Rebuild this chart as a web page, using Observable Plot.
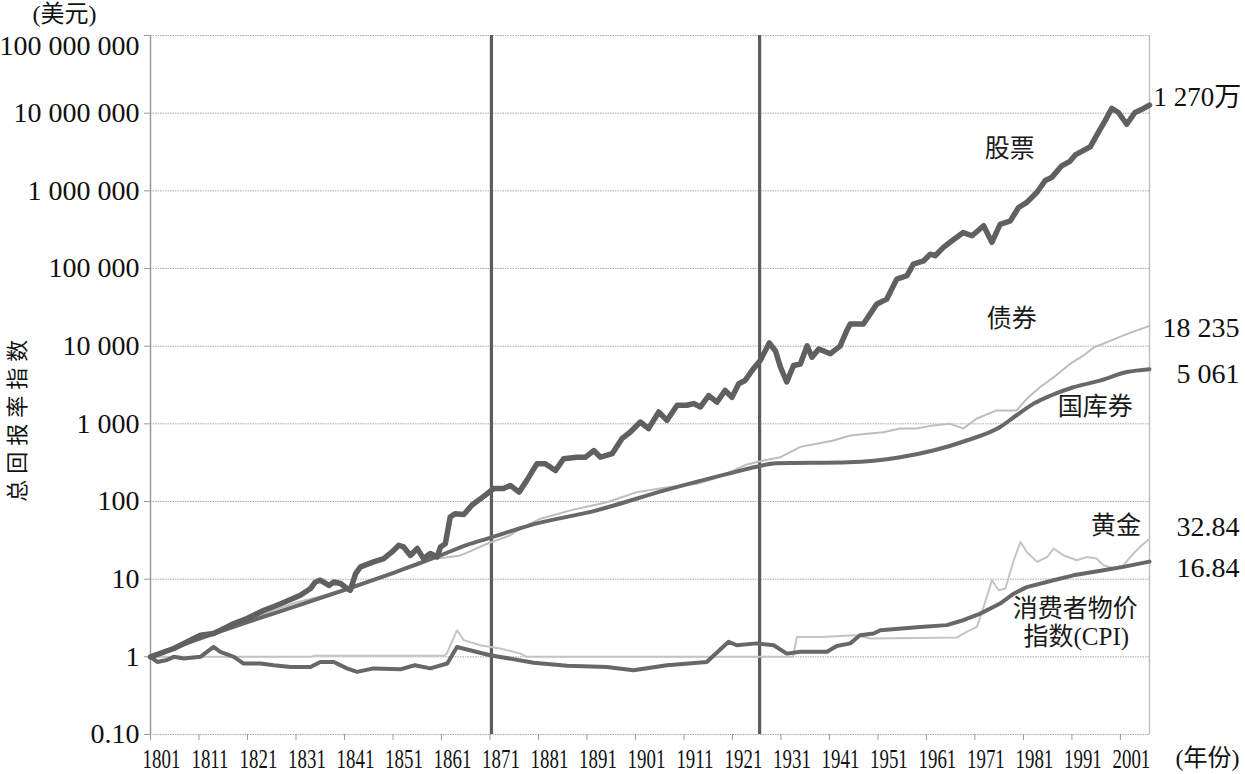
<!DOCTYPE html>
<html><head><meta charset="utf-8">
<script src="https://cdn.jsdelivr.net/npm/d3@7"></script>
<script src="https://cdn.jsdelivr.net/npm/@observablehq/plot@0.6"></script>
<style>html,body{margin:0;padding:0;background:#fff;} svg{display:block}</style>
</head><body><div id="chart"></div>
<script>
// ---------- axis ticks ----------
const xTicks = [1801,1811,1821,1831,1841,1851,1861,1871,1881,1891,1901,1911,1921,1931,1941,1951,1961,1971,1981,1991,2001];
const xDomain = [1801, 2007];
const yTicks = [0.1,1,10,100,1000,1e4,1e5,1e6,1e7,1e8];
const yTickLabels = ["0.10","1","10","100","1 000","10 000","100 000","1 000 000","10 000 000","100 000 000"];
const periodBreaks = [1871.3, 1926.6];

// ---------- series: [year, total return index] ----------
const stocks = [
 [1801,1.0],[1805.8,1.28],[1808.6,1.56],[1811.3,1.9],[1814,2.0],[1816.8,2.43],[1818.2,2.69],[1820.9,3.11],
 [1824.4,3.98],[1827.1,4.62],[1829.9,5.47],[1831.9,6.22],[1834,7.57],[1835,9.2],[1836,9.7],[1837.8,8.3],
 [1838.8,9.2],[1840.2,8.8],[1841.5,7.6],[1842.2,7.2],[1843.3,11.8],[1844.3,14.4],[1847,16.7],[1849.1,18.4],
 [1850.8,22.4],[1852.2,27.3],[1853.2,26.0],[1854.6,20.2],[1856,24.8],[1857.3,18.4],[1858.7,21.4],[1860.1,19.3],
 [1860.8,26],[1861.8,28.6],[1862.8,63],[1863.8,69.7],[1865.6,68],[1867.3,90],[1869.5,114],[1871.8,147],
 [1873.8,147],[1875.2,161],[1877,132],[1878.6,187],[1880.7,307],[1882.4,307],[1884.5,250],[1886.2,356],
 [1888.9,372],[1890.7,372],[1892.4,453],[1893.8,372],[1896.2,413],[1898.2,644],[1899.9,780],[1902,1055],
 [1903.7,869],[1905.8,1420],[1907.5,1110],[1909.6,1737],[1911.6,1737],[1913,1823],[1914.4,1650],[1916.1,2310],
 [1917.8,1900],[1919.5,2690],[1920.9,2200],[1922.3,3290],[1923.6,3610],[1925.3,5100],[1926.7,6500],[1928.6,11000],
 [1929.9,8600],[1930.9,5400],[1932.2,3460],[1933.6,5640],[1935,5900],[1936.4,10100],[1937.4,7200],[1938.8,9200],
 [1941.2,8000],[1943.2,10000],[1944.6,16000],[1945.3,19300],[1948,19300],[1950.8,35000],[1952.8,40300],[1954.9,73000],
 [1957,81000],[1958.3,114000],[1960.4,125000],[1961.8,153000],[1962.8,146000],[1964.5,187000],[1966.2,226000],
 [1968.6,290000],[1970.4,264000],[1972.8,355000],[1974.5,217000],[1976.2,370000],[1978.3,410000],[1980,610000],
 [1981.7,710000],[1983.8,960000],[1985.5,1.36e6],[1986.9,1.5e6],[1988.9,2.1e6],[1990.6,2.4e6],[1991.7,2.9e6],
 [1993.7,3.4e6],[1994.8,3.7e6],[1996.8,6.2e6],[1997.8,7.9e6],[1999.2,11.5e6],[2000.6,10.2e6],[2002.3,7.2e6],
 [2004,10.2e6],[2005.8,11.5e6],[2007,12.7e6]
];
const bonds = [
 [1801,1.0],[1806,1.3],[1811,1.8],[1816,2.3],[1821,3.0],[1826,3.9],[1831,5.0],[1836,6.0],[1841,7.5],
 [1846,9.6],[1851,12.2],[1856,15.0],[1859.4,18.4],[1862,19],[1864.9,20.2],[1867,23],[1870.4,28.6],
 [1875.2,36.8],[1878,47],[1881.4,60],[1888,78],[1895.1,98],[1901.3,132],[1907,150],[1913.7,169],
 [1917,195],[1920.5,240],[1924,300],[1927.4,338],[1930.9,372],[1935,505],[1938.4,555],[1941.8,610],
 [1945.3,707],[1948.7,745],[1952.1,780],[1955.6,869],[1959,869],[1962.4,955],[1965.9,1000],[1968.6,869],
 [1971.4,1170],[1975.5,1490],[1979.6,1490],[1981.7,2100],[1984.4,2960],[1987.2,3960],[1990.6,5900],
 [1993.4,7600],[1995.5,9600],[1998.9,11700],[2002.3,14300],[2007,18235]
];
const bills = [
 [1801,1.0],[1811,1.7],[1821,2.8],[1831,4.5],[1842,7.6],[1851,12.0],[1861,20.5],[1867,28.6],[1871,34],
 [1879,49],[1893,77],[1907,139],[1920,227],[1926,280],[1930,310],[1945,320],[1955.6,372],[1962.4,453],
 [1969.3,610],[1976.2,910],[1979.6,1290],[1983.1,1820],[1986.5,2300],[1991.3,2960],[1996.8,3600],
 [2002.3,4640],[2007,5061]
];
const gold = [
 [1801,1.0],[1834,1.0],[1834.6,1.03],[1861.5,1.03],[1862.1,1.1],[1864.2,2.2],[1865.6,1.64],[1869,1.41],
 [1873.1,1.28],[1877.3,1.1],[1878.6,1.0],[1933.5,1.0],[1934.3,1.8],[1939.1,1.8],[1946.7,1.9],[1949.4,1.72],
 [1967.3,1.78],[1969.3,2.1],[1971.4,2.43],[1972.8,4.4],[1974.5,9.7],[1975.9,7.2],[1977.3,7.6],[1979,17.5],
 [1980.4,30.1],[1981.7,22.4],[1983.8,16.7],[1985.9,19.3],[1987.2,24.8],[1989.3,20.2],[1992,17.5],
 [1994.1,19.3],[1996.1,18.4],[1997.5,15.1],[1999.6,13.7],[2001.6,15.1],[2003.7,21.4],[2005.4,27.3],[2007,32.84]
];
const cpi = [
 [1801,1.0],[1802.4,0.86],[1804.4,0.91],[1805.8,1.0],[1807.9,0.95],[1811.3,1.0],[1814,1.34],[1815.4,1.16],
 [1818.2,1.0],[1820.2,0.82],[1823.7,0.82],[1826.4,0.78],[1829.9,0.74],[1834,0.74],[1836,0.86],[1838.8,0.86],
 [1841.5,0.71],[1843.6,0.64],[1847,0.71],[1852.5,0.69],[1855.5,0.78],[1858.7,0.71],[1862.2,0.82],[1864.2,1.34],
 [1871,1.05],[1880,0.84],[1886.9,0.77],[1895.1,0.74],[1900.6,0.67],[1907.5,0.78],[1915.7,0.86],[1920.2,1.56],
 [1921.9,1.41],[1926,1.49],[1929.5,1.41],[1932.2,1.1],[1935,1.16],[1940.5,1.16],[1942.5,1.38],[1945.3,1.49],
 [1947.3,1.9],[1950.1,2.0],[1951.5,2.2],[1959.7,2.43],[1965.2,2.56],[1968.6,2.96],[1972.1,3.6],[1976.2,4.86],
 [1979,6.5],[1981.7,7.9],[1987.2,9.7],[1991.3,11.2],[1997.5,13.0],[2001.6,14.4],[2007,16.84]
];

// ---------- annotations ----------
const seriesLabels = [
 {text:"股票", year:1978.2, value:3.5e6},
 {text:"债券", year:1978.6, value:22700},
 {text:"国库券", year:1995.8, value:1630},
 {text:"黄金", year:2000.1, value:48},
 {text:"消费者物价", year:1991.7, value:4.1},
 {text:"指数(CPI)", year:1991.9, value:1.79}
];
const endLabels = [
 {text:"18 235", value:16900},
 {text:"5 061", value:4320},
 {text:"32.84", value:46.6},
 {text:"16.84", value:14.0}
];
const stockEndLabel = [{text:"1 270万", value:1.58e7}];
const unitLabel = "(美元)";
const yearLabel = "(年份)";
const yTitle = "总回报率指数";

const rows = a => a.map(([year, value]) => ({year, value}));
const FONT = "'Liberation Serif','Noto Sans CJK SC',serif";
const yTop = yTicks[yTicks.length - 1];
const yLabelMap = new Map(yTicks.map((t, i) => [t, yTickLabels[i]]));

const chart = Plot.plot({
  width: 1245, height: 774,
  marginLeft: 150, marginRight: 96, marginTop: 35, marginBottom: 40,
  style: {fontFamily: FONT, background: "#fff", color: "#111"},
  x: {domain: xDomain, label: null},
  y: {type: "log", domain: [0.1, 1e8], label: null},
  marks: [
    Plot.gridY(yTicks, {stroke: "#a8a8a8", strokeOpacity: 1, strokeDasharray: "1.5,1"}),
    Plot.ruleX([xDomain[0]], {stroke: "#9a9a9a", strokeWidth: 1.5}),
    Plot.ruleX([xDomain[1]], {stroke: "#c0c0c0", strokeWidth: 1.5}),
    Plot.ruleX(periodBreaks, {stroke: "#5c5c5c", strokeWidth: 3.2}),
    // y tick marks + labels (top label is nudged down, as in the reference)
    Plot.axisY({ticks: yTicks, tickFormat: d => d === yTop ? "" : yLabelMap.get(d), tickSize: 6, tickPadding: 5,
      fontSize: 28, stroke: "#999", fill: "#111", fontFamily: FONT}),
    Plot.text([yTop], {x: () => xDomain[0], y: d => d, text: d => yLabelMap.get(d), textAnchor: "end",
      dx: -11, dy: 11, fontSize: 28, fill: "#111", fontFamily: FONT}),
    Plot.axisX({ticks: xTicks, tickSize: 6, stroke: "#999", fill: "none"}),
    Plot.axisX({ticks: xTicks, tickFormat: d => String(d), tickSize: 0, tickPadding: 14, dx: 11,
      fontSize: 27, stroke: "none", fill: "#111", fontFamily: FONT}),
    Plot.line(rows(gold), {x: "year", y: "value", stroke: "#c4c4c4", strokeWidth: 2}),
    Plot.line(rows(bonds), {x: "year", y: "value", stroke: "#bdbdbd", strokeWidth: 2}),
    Plot.line(rows(cpi), {x: "year", y: "value", stroke: "#676767", strokeWidth: 4, strokeLinejoin: "round"}),
    Plot.line(rows(bills), {x: "year", y: "value", stroke: "#686868", strokeWidth: 4, curve: "monotone-x"}),
    Plot.line(rows(stocks), {x: "year", y: "value", stroke: "#606060", strokeWidth: 5.5, strokeLinejoin: "round"}),
    Plot.text(seriesLabels, {x: "year", y: "value", text: "text", fontSize: 25, fill: "#1a1a1a",
      fontFamily: FONT, textAnchor: "middle"}),
    Plot.text(endLabels, {x: () => xDomain[1], y: "value", text: "text", fontSize: 28, fill: "#111",
      fontFamily: FONT, textAnchor: "end", dx: 90}),
    Plot.text(stockEndLabel, {x: () => xDomain[1], y: "value", text: "text", fontSize: 27, fill: "#111",
      fontFamily: FONT, textAnchor: "start", dx: 4}),
    Plot.text([unitLabel], {x: () => xDomain[0], y: () => 1e8, text: d => d, fontSize: 24, fill: "#111",
      fontFamily: FONT, textAnchor: "start", dx: -118, dy: -21}),
    Plot.text([yearLabel], {x: () => xDomain[1], y: () => 0.1, text: d => d, fontSize: 24, fill: "#111",
      fontFamily: FONT, textAnchor: "start", dx: 26, dy: 24}),
    Plot.text([yTitle], {x: () => xDomain[0], y: () => 1000, text: d => d, fontSize: 22, fill: "#111",
      fontFamily: FONT, rotate: -90, dx: -133, dy: -6})
  ]
});
document.getElementById("chart").appendChild(chart);

// compress x tick labels horizontally like the reference (condensed serif digits)
chart.querySelectorAll('g[aria-label="x-axis tick label"] text').forEach(t => {
  const tr = t.getAttribute("transform");
  if (tr) {
    t.setAttribute("transform", tr + " scale(0.70,1)");
  } else {
    const x = +t.getAttribute("x") || 0, y = +t.getAttribute("y") || 0;
    t.removeAttribute("x"); t.removeAttribute("y");
    t.setAttribute("transform", `translate(${x},${y}) scale(0.70,1)`);
  }
});
chart.querySelectorAll("text").forEach(t => {
  if (t.textContent === yTitle) t.setAttribute("letter-spacing", "6");
});
</script>
</body></html>
